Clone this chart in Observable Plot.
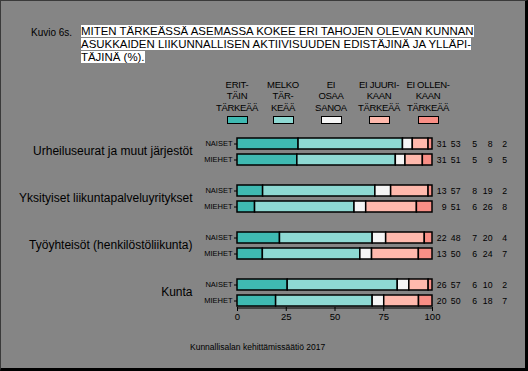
<!DOCTYPE html>
<html>
<head>
<meta charset="utf-8">
<script src="https://cdn.jsdelivr.net/npm/d3@7"></script>
<script src="https://cdn.jsdelivr.net/npm/@observablehq/plot@0.6"></script>
<style>
  html, body { margin: 0; padding: 0; }
  body { width: 528px; height: 371px; overflow: hidden; font-family: "Liberation Sans", Arial, sans-serif; }
  #frame { position: relative; width: 524px; height: 367px; background: #858585;
           border-left: 1px solid #3a3a3a; border-top: 1px solid #3a3a3a;
           border-right: 3px solid #000; border-bottom: 3px solid #000; }
  #chart { position: absolute; left: -1px; top: -1px; width: 528px; height: 371px; }
  #chart svg { max-width: none !important; }
  .abs { position: absolute; color: #000; }
  #kuvio { left: 30px; top: 26px; font-size: 10px; }
  #title { left: 80px; top: 24px; font-size: 11.45px; line-height: 13px; }
  #title span { background: #fff; }
  .leg { position: absolute; top: 78px; width: 60px; margin-left: -30px; text-align: center;
         font-size: 9.5px; line-height: 11.3px; letter-spacing: -0.3px; color: #000; }
  .sw { position: absolute; top: 115px; width: 19px; height: 6px; margin-left: -10px; border: 1px solid #000; }
  #source { left: 189px; top: 341px; font-size: 8.5px; }
</style>
</head>
<body>
<div id="frame">
  <div id="chart"></div>
  <div id="kuvio" class="abs">Kuvio 6s.</div>
  <div id="title" class="abs"></div>
  <div id="legend"></div>
  <div id="source" class="abs"></div>
</div>
<script>
// ---- data ----
const categories = [
  "Urheiluseurat ja muut järjestöt",
  "Yksityiset liikuntapalveluyritykset",
  "Työyhteisöt (henkilöstöliikunta)",
  "Kunta"
];
const genders = ["NAISET", "MIEHET"];
const answers = ["Erittäin tärkeää", "Melko tärkeää", "Ei osaa sanoa", "Ei juurikaan tärkeää", "Ei ollenkaan tärkeää"];
const legendLabels = [
  ["ERIT-", "TÄIN", "TÄRKEÄÄ"],
  ["MELKO", "TÄR-", "KEÄÄ"],
  ["EI", "OSAA", "SANOA"],
  ["EI JUURI-", "KAAN", "TÄRKEÄÄ"],
  ["EI OLLEN-", "KAAN", "TÄRKEÄÄ"]
];
const naiset = [
  [31, 53, 5, 8, 2],
  [13, 57, 8, 19, 2],
  [22, 48, 7, 20, 4],
  [26, 57, 6, 10, 2]
];
const miehet = [
  [31, 51, 5, 9, 5],
  [9, 51, 6, 26, 8],
  [13, 50, 6, 24, 7],
  [20, 50, 6, 18, 7]
];
const xTicks = [0, 25, 50, 75, 100];
const titleLines = [
  "MITEN TÄRKEÄSSÄ ASEMASSA KOKEE ERI TAHOJEN OLEVAN KUNNAN",
  "ASUKKAIDEN LIIKUNNALLISEN AKTIIVISUUDEN EDISTÄJINÄ JA YLLÄPI-",
  "TÄJINÄ (%)."
];
const sourceText = "Kunnallisalan kehittämissäätiö 2017";

// ---- style / layout ----
const colors = ["#3fbab2", "#8ed9d3", "#f5f5f5", "#ffb9ad", "#f98f86"];
const numberOffsets = [14, 28, 44.5, 60, 74.5];
const legendCenters = [236, 282, 330, 378, 427];

// ---- build table ----
const rows = [];
categories.forEach((cat, i) => {
  [naiset[i], miehet[i]].forEach((vals, g) => {
    vals.forEach((v, k) => rows.push({cat, gender: genders[g], answer: answers[k], value: v}));
  });
});

const plot = Plot.plot({
  width: 528,
  height: 371,
  marginLeft: 237,
  marginRight: 96,
  marginTop: 136,
  marginBottom: 64,
  style: {background: "transparent", fontFamily: "Liberation Sans, Arial, sans-serif", color: "#000", maxWidth: "none"},
  x: {domain: [0, 1], axis: null, label: null},
  y: {domain: genders, paddingInner: 0.3125, paddingOuter: 0.09375, axis: null, label: null},
  fy: {domain: categories, paddingInner: 17 / 47, paddingOuter: 0, axis: null, label: null},
  color: {domain: answers, range: colors},
  marks: [
    Plot.barX(rows, Plot.stackX({
      offset: "normalize", x: "value", y: "gender", fy: "cat", fill: "answer",
      stroke: "#000", strokeWidth: 1.5
    })),
    Plot.axisY({fontSize: 7.5, tickSize: 3, tickPadding: 2, stroke: "#000", label: null}),
    Plot.axisX({ticks: xTicks.map(d => d / 100), tickFormat: d => Math.round(d * 100), fontSize: 9.5, tickSize: 4, tickPadding: 2, label: null}),
    Plot.ruleY([{cat: categories[categories.length - 1], gender: genders[1]}], {fy: "cat", y: "gender", dy: 7, stroke: "#000"}),
    Plot.text(categories, {fy: d => d, text: d => d, frameAnchor: "left", dx: -45, textAnchor: "end", fontSize: 12, fill: "#000"}),
    ...answers.map((a, k) => Plot.text(rows.filter(r => r.answer === a), {
      fy: "cat", y: "gender", text: "value", frameAnchor: "right", dx: numberOffsets[k], fontSize: 8.7, fill: "#000"
    }))
  ]
});
document.getElementById("chart").appendChild(plot);

// title
const t = document.getElementById("title");
t.innerHTML = titleLines.map(l => `<span>${l}</span>`).join("<br>");
document.getElementById("source").textContent = sourceText;

// legend
const lg = document.getElementById("legend");
legendLabels.forEach((lines, k) => {
  const d = document.createElement("div");
  d.className = "leg";
  d.style.left = legendCenters[k] + "px";
  d.innerHTML = lines.join("<br>");
  lg.appendChild(d);
  const s = document.createElement("div");
  s.className = "sw";
  s.style.left = legendCenters[k] + "px";
  s.style.background = colors[k];
  lg.appendChild(s);
});
</script>
</body>
</html>
